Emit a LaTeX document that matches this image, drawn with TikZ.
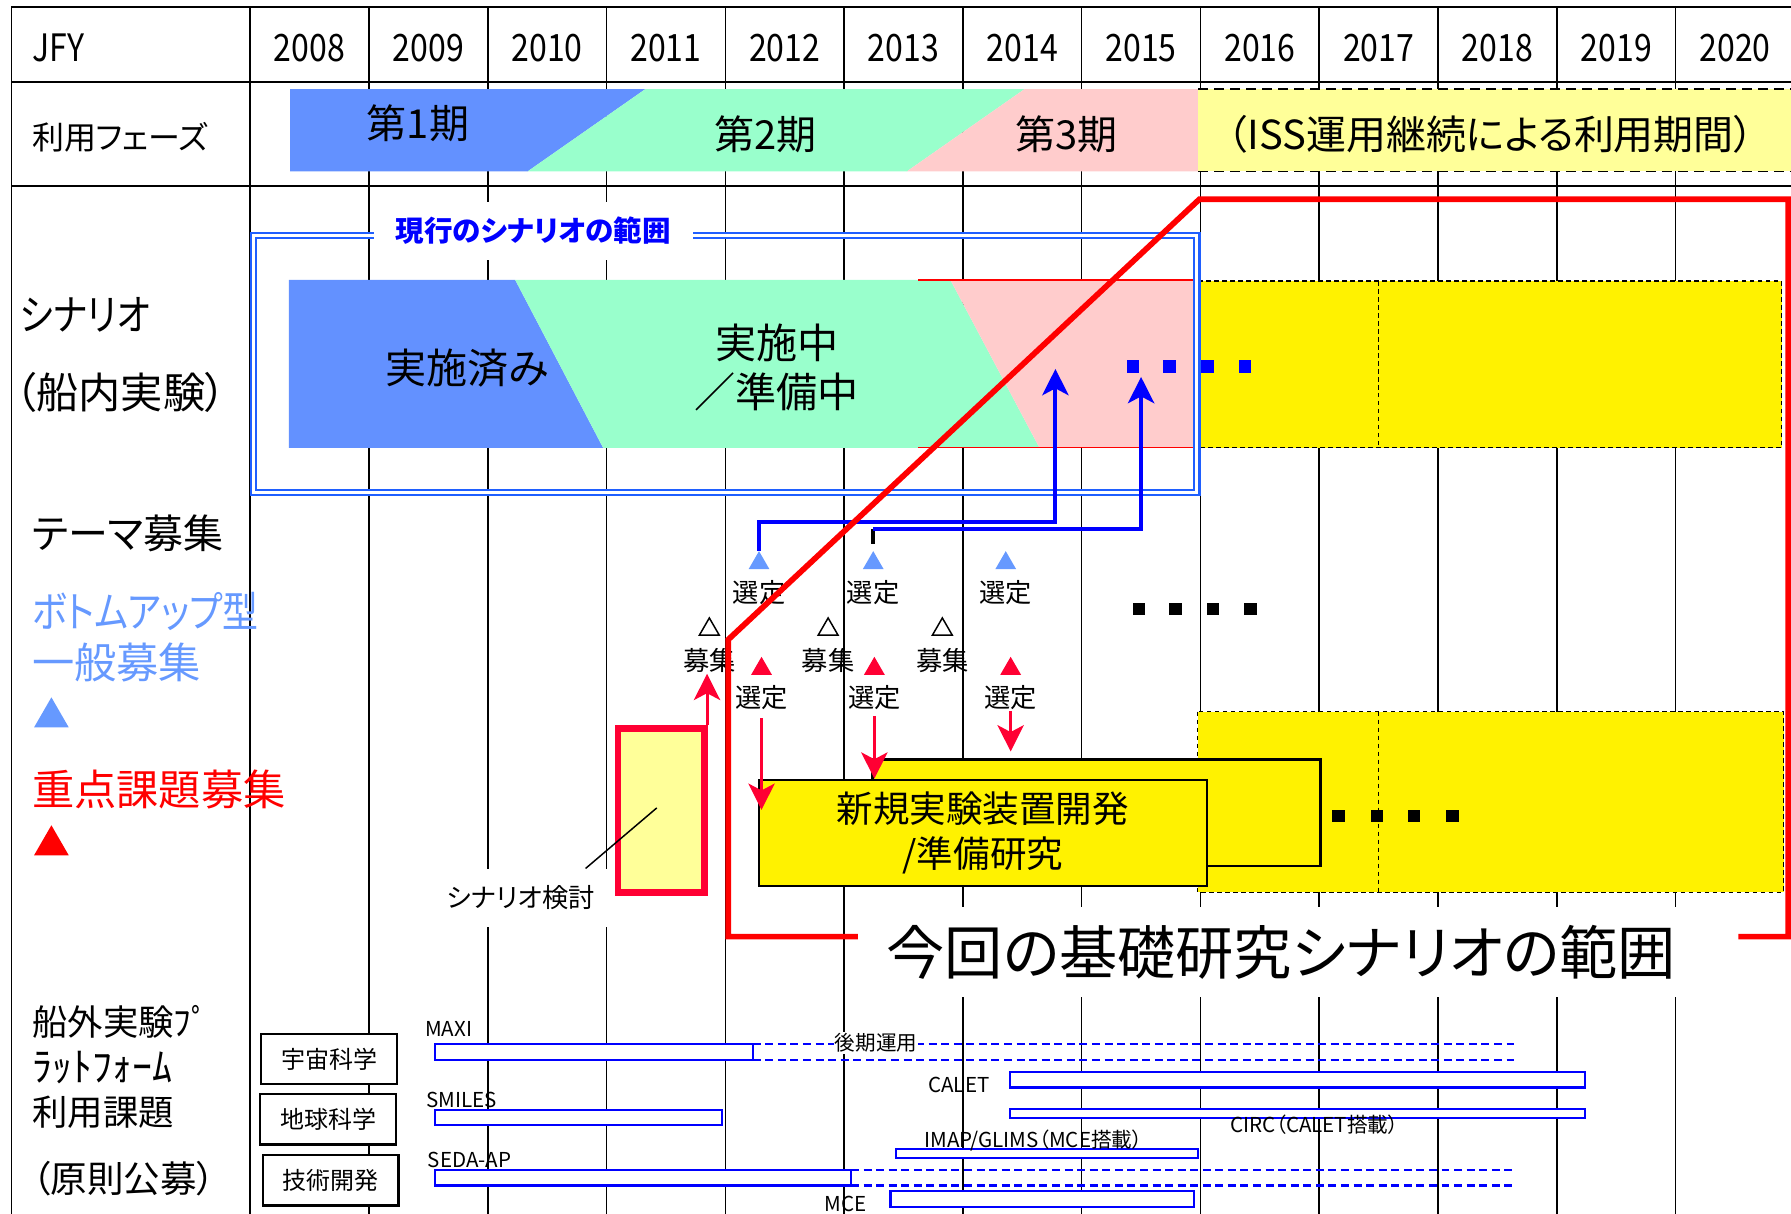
\documentclass[tikz,border=0pt]{standalone}
\usepackage{fontspec}
\setmainfont{Noto Sans CJK JP}[RawFeature=+palt]
\newfontfamily\narrowfont{Noto Sans CJK JP}[FakeStretch=0.85,RawFeature=+palt]
\usepackage{tikz}
\usetikzlibrary{arrows.meta,shapes.geometric,calc}
\definecolor{phaseblue}{HTML}{6391FF}
\definecolor{phasegreen}{HTML}{99FFCC}
\definecolor{phasepink}{HTML}{FFCCCC}
\definecolor{paleyellow}{HTML}{FFFF99}
\definecolor{frameblue}{HTML}{1F5FFF}
\definecolor{triblue}{HTML}{6699FF}
\definecolor{arrowred}{HTML}{FF0033}
\definecolor{barblue}{HTML}{0000FF}

\begin{document}
\begin{tikzpicture}[x=1pt,y=-1pt,
    gridline/.style={line width=1.4pt},
    rowline/.style={line width=2pt},
    coarsedash/.style={line width=1.4pt,dash pattern=on 9pt off 5pt},
    thindash/.style={line width=0.9pt,dash pattern=on 4pt off 3pt},
    yearlbl/.style={font=\narrowfont\fontsize{33}{36}\selectfont},
    sidelbl/.style={anchor=west,inner sep=0pt,font=\fontsize{#1}{#1}\selectfont},
    narrowlbl/.style={anchor=west,inner sep=0pt,font=\narrowfont\fontsize{#1}{#1}\selectfont},
    phaselbl/.style={font=\fontsize{35}{38}\selectfont},
    bigjp/.style={font=\fontsize{36}{43}\selectfont,align=center},
    smalllbl/.style={font=\fontsize{23}{26}\selectfont,inner sep=1pt},
    tinylbl/.style={anchor=west,font=\fontsize{18}{20}\selectfont,inner sep=0pt},
    tri/.style={regular polygon,regular polygon sides=3,inner sep=0pt,minimum size=21pt,fill=#1},
    opentri/.style={regular polygon,regular polygon sides=3,inner sep=0pt,minimum size=20pt,draw,line width=1.3pt},
    dot/.style={fill=#1,minimum size=11pt,inner sep=0pt},
    blueconn/.style={draw=barblue,line width=3.4pt,-{Stealth[length=23pt,width=23pt,inset=6pt]}},
    redconn/.style={draw=arrowred,line width=2.6pt,-{Stealth[length=23pt,width=23pt,inset=6pt]}},
    bar/.style={draw=barblue,fill=white,line width=2pt},
    dashbar/.style={draw=barblue,line width=2pt,dash pattern=on 7pt off 4pt},
    catbox/.style={draw,fill=white,line width=2pt,minimum width=119pt,minimum height=44pt,font=\fontsize{21}{24}\selectfont},
    devbox/.style={draw,fill=yellow,line width=2.2pt,minimum width=392pt,minimum height=93pt}]
  \useasboundingbox (0,0) rectangle (1568,1062.8);

  \foreach \x in {219,323,...,1467}
    \draw[gridline] (\x,6) -- (\x,1066);
  \draw[gridline] (10,6) -- (10,1066);

  \fill[phaseblue] (254,78) -- (565,78) -- (462,150) -- (254,150) -- cycle;
  \fill[phasegreen] (565,78) -- (897,78) -- (794,150) -- (462,150) -- cycle;
  \fill[phasepink] (897,78) -- (1049,78) -- (1049,150) -- (794,150) -- cycle;
  \fill[paleyellow] (1049,78) rectangle (1572,150);
  \draw[coarsedash] (1049,78) -- (1572,78) (1049,150) -- (1572,150);
  \draw[rowline] (10,6) -- (1572,6) (10,72) -- (1572,72) (10,163) -- (1572,163);

  \node[yearlbl,anchor=west,inner sep=0pt] (jfy) at (28,42) {JFY};
  \foreach \yr [count=\i from 0] in {2008,...,2020}
    \node[yearlbl] (yr\yr) at ({271+104*\i},42) {\yr};
  \node[sidelbl=28] (phase) at (28,120) {利用フェーズ};
  \node[phaselbl] (ph1) at (366,108) {第1期};
  \node[phaselbl] (ph2) at (670,118) {第2期};
  \node[phaselbl] (ph3) at (934,118) {第3期};
  \node[phaselbl] (ph4) at (1305,118) {（ISS運用継続による利用期間）};

  \fill[phaseblue] (253,245) -- (451,245) -- (528,392) -- (253,392) -- cycle;
  \fill[phasegreen] (451,245) -- (832,245) -- (910,392) -- (528,392) -- cycle;
  \fill[phasepink] (832,245) -- (1045,245) -- (1045,392) -- (910,392) -- cycle;
  \draw[red,line width=1.2pt] (804,245) -- (1045,245) -- (1045,392) -- (804,392);
  \draw[thindash,fill=yellow] (1050,246) rectangle (1560,392);
  \draw[thindash] (1207,246) -- (1207,392);
  \node[bigjp] (done) at (409,322) {実施済み};
  \node[bigjp] (doing) at (680,322) {実施中\\／準備中};

  \draw[frameblue,line width=2pt,double=white,double distance=2.5pt] (222,206.3) rectangle (1047.8,431);
  \node[fill=white,minimum width=280pt,minimum height=51pt,text=barblue,
        font=\bfseries\fontsize{25}{28}\selectfont] (current) at (467,202) {現行のシナリオの範囲};
  \foreach \x in {992,1024,1057,1090}
    \node[dot=barblue] at (\x,321) {};

  \node[narrowlbl=37] (scen) at (17,276) {シナリオ};
  \node[sidelbl=37] (onboard) at (13,344) {（船内実験）};
  \node[sidelbl=35] (theme) at (28,467) {テーマ募集};
  \node[narrowlbl=37,text=triblue] (bottom) at (28,535) {ボトムアップ型};
  \node[sidelbl=37,text=triblue] (general) at (28,580) {一般募集};
  \node[tri=triblue,minimum size=35pt] (legb) at (45,628) {};
  \node[sidelbl=37,text=red] (focus) at (28,691) {重点課題募集};
  \node[tri=red,minimum size=35pt] (legr) at (45,740) {};

  \node[tri=triblue] (bt1) at (664.5,493) {};
  \node[tri=triblue] (bt2) at (764.5,493) {};
  \node[tri=triblue] (bt3) at (880.5,493) {};
  \node[smalllbl] (bs1) at (664.5,519) {選定};
  \node[smalllbl] (bs2) at (764.5,519) {選定};
  \node[smalllbl] (bs3) at (880.5,519) {選定};
  \node[opentri] (ot1) at (621,551) {};
  \node[opentri] (ot2) at (725,551) {};
  \node[opentri] (ot3) at (825,551) {};
  \node[smalllbl] (rm1) at (621,578) {募集};
  \node[smalllbl] (rm2) at (725,578) {募集};
  \node[smalllbl] (rm3) at (825,578) {募集};
  \node[tri=arrowred] (rt1) at (666.7,585.5) {};
  \node[tri=arrowred] (rt2) at (765.5,585.5) {};
  \node[tri=arrowred] (rt3) at (884.8,585.5) {};
  \node[smalllbl] (rs1) at (666.7,611) {選定};
  \node[smalllbl] (rs2) at (765.5,611) {選定};
  \node[smalllbl] (rs3) at (884.8,611) {選定};
  \foreach \x in {997,1029,1062,1095}
    \node[dot=black] at (\x,533) {};

  \coordinate (tip1) at (924,323);
  \coordinate (tip2) at (999,330);
  \draw[blueconn] (bt1.north) -- ++(0,-25) -| (tip1);
  \draw[line width=3.4pt] ([yshift=6pt]bt2.north) -- ++(0,-13) coordinate (bj2);
  \draw[blueconn] (bj2) -| (tip2);

  \draw[thindash,fill=yellow] (1048.6,623) rectangle (1561.5,781);
  \draw[thindash] (1206.5,623) -- (1206.5,781);
  \node[devbox] (back) at (960,711.5) {};
  \node[devbox,font=\fontsize{32}{39}\selectfont,align=center] (front) at (860.5,729.3) {新規実験装置開発\\/準備研究};
  \foreach \x in {1172,1205.5,1238,1271.6}
    \node[dot=black] at (\x,714.5) {};

  \node[draw=arrowred,line width=6pt,fill=paleyellow,minimum width=76pt,minimum height=143.5pt] (scbox) at (579,709.3) {};
  \node[fill=white,minimum width=155pt,minimum height=51pt,font=\fontsize{23}{26}\selectfont] (scnote) at (456,786) {シナリオ検討};
  \draw[line width=1.3pt] ($(scbox.center)+(-4,-2)$) -- ([xshift=-21pt]scnote.north east);

  \coordinate (rtip1) at (666.7,709);
  \draw[redconn] ([yshift=-6pt]rs1.south) -- (rtip1);
  \draw[redconn] ([yshift=-4pt]rs2.south) -- (rs2.south |- front.north);
  \draw[redconn] (rs3.south) -- ([yshift=6pt]rs3.south |- back.north);
  \draw[redconn] ([xshift=-1pt]scbox.north east) -- ([xshift=-1pt]scbox.north east |- rm1.south);

  \draw[red,line width=5pt] (751,820) -- (637.5,820) -- (637.5,560) -- (1050,174.5) -- (1565.5,174.5) -- (1565.5,820) -- (1522,820);
  \fill[white] (753,794) rectangle (1520,873);
  \node[font=\fontsize{51}{56}\selectfont] (thisscope) at (1121.5,834) {今回の基礎研究シナリオの範囲};

  \node[sidelbl=31] (ext1) at (28,895) {船外実験ﾌﾟ};
  \node[sidelbl=35] (ext2) at (28,935) {ﾗｯﾄﾌｫｰﾑ};
  \node[sidelbl=31] (ext3) at (28,973.5) {利用課題};
  \node[sidelbl=32] (ext4) at (28,1032) {（原則公募）};
  \node[catbox] (space) at (288.2,927) {宇宙科学};
  \node[catbox] (earth) at (287.3,980) {地球科学};
  \node[catbox] (tech) at (289.5,1033.3) {技術開発};

  \draw[dashbar] (659,914) -- (1325.6,914) (659,928) -- (1325.6,928);
  \draw[bar] (381,914) rectangle (659,928);
  \node[fill=white,font=\fontsize{18}{20}\selectfont,inner sep=1pt] (late) at (767,913) {後期運用};
  \draw[bar] (381,971.7) rectangle (632,984.6);
  \draw[dashbar] (745,1024) -- (1325.6,1024) (745,1038) -- (1325.6,1038);
  \draw[bar] (381,1024) rectangle (745,1038);
  \draw[bar] (884,938.5) rectangle (1387.6,952);
  \draw[bar] (884,971) rectangle (1387.6,978.7);
  \draw[bar] (784.6,1006) rectangle (1048.8,1013.5);
  \draw[bar] (779.5,1043) rectangle (1045.5,1056.4);
  \node[tinylbl] (maxi) at (372,901) {MAXI};
  \node[tinylbl] (smiles) at (373,963) {SMILES};
  \node[tinylbl] (seda) at (374.5,1015.5) {SEDA-AP};
  \node[tinylbl] (calet) at (812.5,950) {CALET};
  \node[tinylbl] (circ) at (1077,985) {CIRC（CALET搭載）};
  \node[tinylbl] (imap) at (809,998.6) {IMAP/GLIMS（MCE搭載）};
  \node[tinylbl] (mce) at (721.5,1054) {MCE};
\end{tikzpicture}
\end{document}
